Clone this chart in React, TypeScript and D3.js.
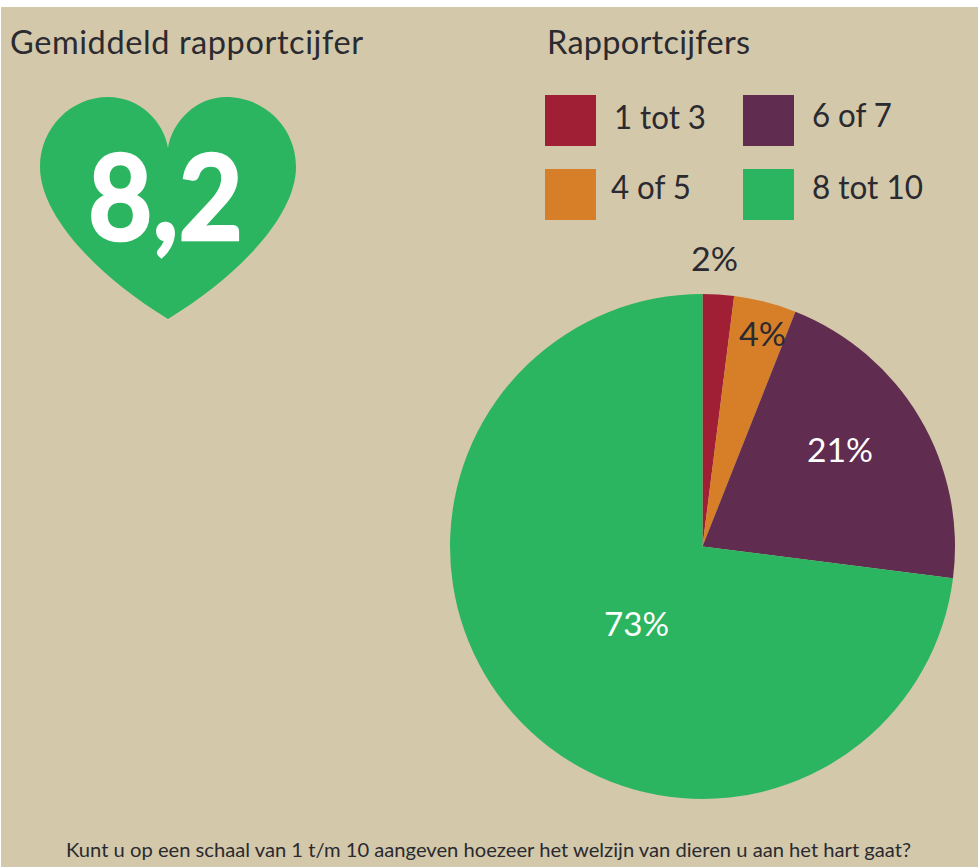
import React from "react";
import * as d3 from "d3";

const categories = ["1 tot 3", "4 of 5", "6 of 7", "8 tot 10"];
const shares = [2, 4, 21, 73];
const shareLabels = ["2%", "4%", "21%", "73%"];
const colours = ["#a01f35", "#d67f28", "#602c50", "#2bb560"];
const averageGrade = "8,2";
const titleLeft = "Gemiddeld rapportcijfer";
const titleRight = "Rapportcijfers";
const question = "Kunt u op een schaal van 1 t/m 10 aangeven hoezeer het welzijn van dieren u aan het hart gaat?";

const W = 978, H = 867;
const font = "Lato, 'Open Sans', sans-serif";
const ink = "#2a2a30";

const legendPos = [
  { x: 545, y: 95, tx: 614, ty: 129, len: 92 },
  { x: 545, y: 169, tx: 611, ty: 199, len: 80 },
  { x: 743, y: 95, tx: 812, ty: 127, len: 80 },
  { x: 743, y: 169, tx: 812, ty: 199, len: 111 },
];
const labelPos = [
  { x: 714.5, y: 271, fill: ink, len: 47 },
  { x: 762.5, y: 346, fill: ink, len: 47 },
  { x: 840, y: 462, fill: "#fff", len: 66 },
  { x: 636.5, y: 636, fill: "#fff", len: 65 },
];

function heartPath() {
  const p = d3.path();
  p.moveTo(168, 148);
  p.bezierCurveTo(172, 122, 196, 97, 226, 97);
  p.bezierCurveTo(265, 97, 296, 128, 296, 167);
  p.bezierCurveTo(296, 215, 240, 275, 168, 319);
  p.bezierCurveTo(96, 275, 40, 215, 40, 167);
  p.bezierCurveTo(40, 128, 71, 97, 108, 97);
  p.bezierCurveTo(140, 97, 164, 122, 168, 148);
  p.closePath();
  return p.toString();
}

export default function App() {
  const pie = d3.pie<number>().sort(null).value((d) => d)(shares);
  const arc = d3.arc<d3.PieArcDatum<number>>().innerRadius(0).outerRadius(252.5);
  return (
    <svg width={W} height={H} style={{ position: "absolute", left: 0, top: 0, background: "#fff" }} fontFamily={font}>
      <rect x={1} y={7} width={W - 1} height={H - 7} fill="#d3c8aa" />
      <text x={10} y={54} fontSize={32.5} fill={ink} textLength={353} lengthAdjust="spacing">{titleLeft}</text>
      <text x={547} y={54} fontSize={32.5} fill={ink} textLength={203} lengthAdjust="spacing">{titleRight}</text>
      <path d={heartPath()} fill={colours[3]} />
      <text x={88} y={240} fontSize={118} fontWeight={700} fill="#fff" stroke="#fff" strokeWidth={2.5} textLength={155} lengthAdjust="spacingAndGlyphs">{averageGrade}</text>
      {categories.map((c, i) => (
        <g key={c}>
          <rect x={legendPos[i].x} y={legendPos[i].y} width={51} height={51} fill={colours[i]} />
          <text x={legendPos[i].tx} y={legendPos[i].ty} fontSize={32.5} fill={ink} textLength={legendPos[i].len} lengthAdjust="spacingAndGlyphs">{c}</text>
        </g>
      ))}
      <g transform="translate(702.5,546.5)">
        {pie.map((d, i) => (
          <path key={i} d={arc(d) ?? ""} fill={colours[i]} />
        ))}
      </g>
      {shareLabels.map((l, i) => (
        <text key={l} x={labelPos[i].x - labelPos[i].len / 2} y={labelPos[i].y} fontSize={32.5} fill={labelPos[i].fill} textLength={labelPos[i].len} lengthAdjust="spacingAndGlyphs">{l}</text>
      ))}
      <text x={66} y={857} fontSize={20} fill={ink} textLength={845} lengthAdjust="spacingAndGlyphs">{question}</text>
    </svg>
  );
}
